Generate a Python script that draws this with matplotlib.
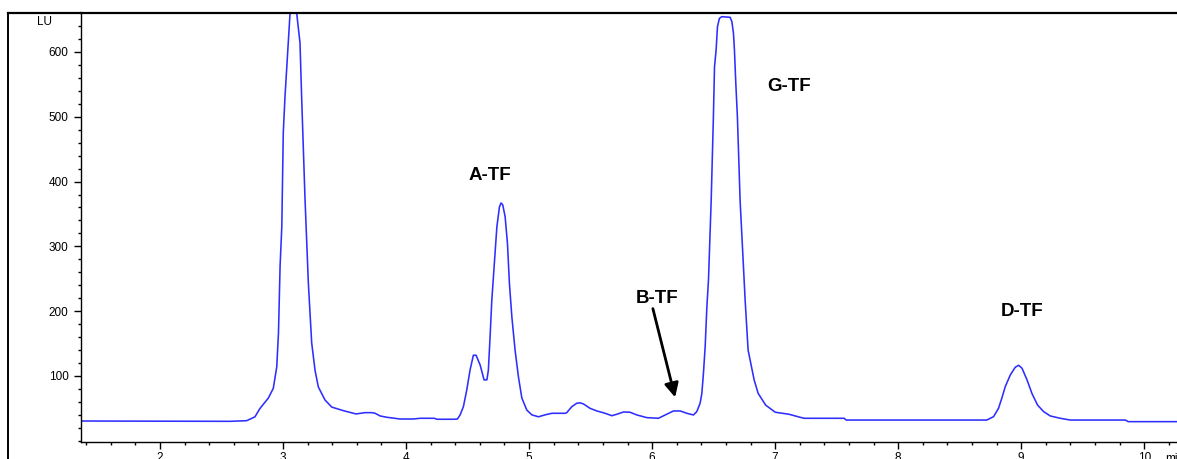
import matplotlib
matplotlib.use("Agg")
import matplotlib.pyplot as plt
from matplotlib.lines import Line2D
from matplotlib.ticker import MultipleLocator

plt.rcParams['font.family'] = ['Liberation Sans', 'DejaVu Sans']

# fluorescence trace, retention time (min) vs signal (LU)
t_min = [1.357, 2.569, 2.705, 2.772, 2.813, 2.881, 2.921, 2.949, 2.963, 2.976,
         2.990, 3.002, 3.016, 3.057, 3.070, 3.085, 3.100, 3.111, 3.138, 3.152,
         3.179, 3.206, 3.233, 3.260, 3.287, 3.341, 3.396, 3.490, 3.593, 3.667,
         3.721, 3.748, 3.789, 3.842, 3.951, 4.060, 4.114, 4.230, 4.250, 4.385,
         4.417, 4.439, 4.466, 4.493, 4.520, 4.547, 4.569, 4.602, 4.634, 4.657,
         4.669, 4.683, 4.697, 4.710, 4.738, 4.759, 4.772, 4.786, 4.805, 4.824,
         4.840, 4.860, 4.886, 4.913, 4.941, 4.981, 5.022, 5.076, 5.130, 5.185,
         5.293, 5.306, 5.347, 5.388, 5.415, 5.442, 5.496, 5.551, 5.618, 5.672,
         5.713, 5.767, 5.821, 5.876, 5.957, 6.051, 6.106, 6.173, 6.228, 6.282,
         6.336, 6.363, 6.390, 6.404, 6.417, 6.431, 6.445, 6.458, 6.480, 6.498,
         6.507, 6.520, 6.531, 6.547, 6.567, 6.634, 6.648, 6.661, 6.669, 6.680,
         6.693, 6.715, 6.756, 6.780, 6.829, 6.862, 6.923, 7.001, 7.110, 7.234,
         7.561, 7.577, 8.720, 8.775, 8.815, 8.842, 8.870, 8.911, 8.951, 8.979,
         9.006, 9.047, 9.087, 9.133, 9.182, 9.236, 9.317, 9.398, 9.846, 9.870,
         10.266]
signal_lu = [30.5, 30.0, 31.0, 37.0, 50.0, 66.0, 81.0, 114.0, 166.0, 269.0,
             330.0, 475.0, 531.0, 660.0, 700.0, 715.0, 695.0, 660.0, 614.0, 526.0,
             372.0, 243.0, 151.0, 109.0, 83.0, 63.0, 52.0, 46.5, 41.4, 43.4,
             43.4, 42.5, 38.3, 36.3, 33.6, 33.6, 34.7, 34.7, 33.2, 33.2,
             33.5, 39.8, 52.6, 78.0, 109.0, 132.0, 132.0, 117.0, 94.0, 94.0,
             109.0, 161.0, 217.0, 253.0, 330.0, 361.0, 367.0, 364.0, 346.0, 305.0,
             243.0, 191.0, 140.0, 99.0, 66.0, 47.5, 40.0, 37.0, 40.0, 42.4,
             42.4, 43.4, 52.6, 58.0, 58.5, 56.8, 50.0, 46.0, 42.4, 38.7,
             40.9, 44.4, 44.0, 39.8, 35.7, 34.7, 39.8, 46.0, 46.0, 42.4,
             39.8, 45.0, 58.0, 73.0, 104.0, 145.0, 207.0, 248.0, 371.0, 500.0,
             577.0, 603.0, 639.0, 652.0, 654.5, 653.5, 647.0, 629.0, 603.0, 552.0,
             500.0, 371.0, 217.0, 140.0, 94.0, 73.0, 55.0, 44.0, 41.0, 34.7,
             34.7, 32.0, 32.0, 37.2, 50.0, 65.6, 83.5, 101.5, 113.4, 116.5,
             112.0, 94.0, 73.0, 55.0, 45.0, 38.3, 34.7, 32.0, 32.0, 29.5,
             29.5]

peak_names = ["A-TF", "G-TF", "B-TF", "D-TF"]
label_t = [4.683, 7.114, 6.037, 9.004]
label_lu = [410, 547, 220, 199]
arrow_tail = (6.006, 204)
arrow_head = (6.187, 67)

fig = plt.figure(figsize=(11.77, 4.59), dpi=100)
fig.patch.set_facecolor("white")
ax = fig.add_axes([81 / 1177, 17 / 459, 1096 / 1177, 428.7 / 459])

ax.plot(t_min, signal_lu, color="#2e2eff", lw=1.15)
ax.set_xlim(1.358, 10.266)
ax.set_ylim(-1.9, 659.7)

ax.spines["right"].set_visible(False)
ax.spines["top"].set_linewidth(1.6)
ax.spines["left"].set_linewidth(1.0)
ax.spines["bottom"].set_linewidth(1.0)

ax.xaxis.set_major_locator(MultipleLocator(1))
ax.xaxis.set_minor_locator(MultipleLocator(0.2))
ax.yaxis.set_major_locator(MultipleLocator(100))
ax.yaxis.set_minor_locator(MultipleLocator(20))
ax.set_yticks([100, 200, 300, 400, 500, 600])
ax.tick_params(which="major", direction="out", length=5, width=1.0,
               labelsize=8.5, pad=2.3)
ax.tick_params(which="minor", direction="out", length=2.5, width=1.0)
ax.tick_params(axis="y", which="major", pad=4)

for name, x, y in zip(peak_names, label_t, label_lu):
    ax.text(x, y, name, ha="center", va="center", fontsize=13.5,
            fontweight="bold")

ax.annotate("", xy=arrow_head, xytext=arrow_tail,
            arrowprops=dict(arrowstyle="-|>", color="black", lw=2,
                            mutation_scale=21, shrinkA=0, shrinkB=0))

# outer frame and unit labels
fig.add_artist(Line2D([8.3 / 1177, 8.3 / 1177], [0, 1 - 13.3 / 459],
                      color="black", lw=1.4))
fig.add_artist(Line2D([8.3 / 1177, 81 / 1177], [1 - 13.3 / 459, 1 - 13.3 / 459],
                      color="black", lw=1.6))
fig.text(45 / 1177, 1 - 22 / 459, "LU", ha="center", va="center", fontsize=8.5)
fig.text(1165 / 1177, 1 - 452.5 / 459, "min", ha="left", va="top", fontsize=8.5)

fig.savefig("out.png", dpi=100, facecolor="white")
